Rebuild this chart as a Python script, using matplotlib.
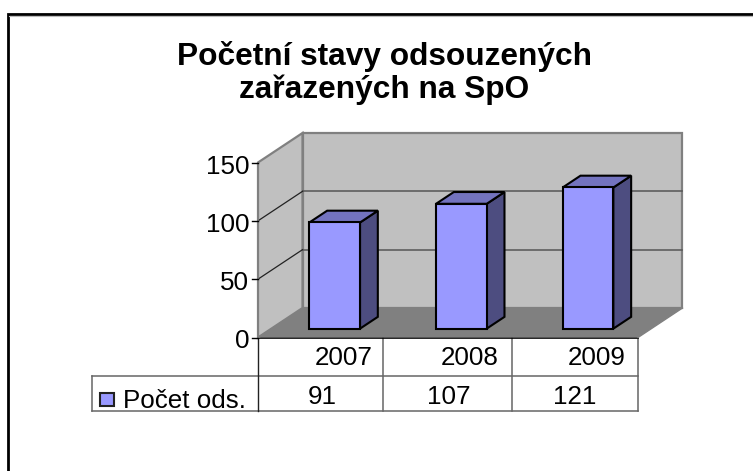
import matplotlib
matplotlib.use('Agg')
import matplotlib.pyplot as plt
from matplotlib.patches import Polygon

W, H = 753, 471

title_lines = ['Početní stavy odsouzených', 'zařazených na SpO']
years = ['2007', '2008', '2009']
counts = [91, 107, 121]
series_name = 'Počet ods.'
y_ticks = [0, 50, 100, 150]

plt.rcParams['font.family'] = ['Liberation Sans', 'DejaVu Sans']

fig = plt.figure(figsize=(W / 100, H / 100), dpi=100)

# page in pixels, for the frame and the text
page = fig.add_axes([0, 0, 1, 1])
page.set_xlim(0, W)
page.set_ylim(H, 0)
page.axis('off')
page.plot([8, 8, W], [H, 14, 14], color='black', lw=2.0, solid_joinstyle='miter')
page.plot([9.5, W], [15.5, 15.5], color='#bbbbbb', lw=0.8)
for line_text, base in zip(title_lines, [65, 98]):
    page.text(384.5, base, line_text, ha='center', va='baseline', fontsize=22.8,
              fontweight='bold')

# front plane of the 3d box: one unit per category, value upwards
left, right, y0, y150 = 258, 638, 337.5, 162.5
ax = fig.add_axes([left / W, 1 - y0 / H, (right - left) / W, (y0 - y150) / H])
ax.set_xlim(0, len(years))
ax.set_ylim(0, 150)
ax.axis('off')

dx = 44.5 / (right - left) * len(years)   # depth of the box in data units
dy = 29.5 / (y0 - y150) * 150


def shift(x, y, d):
    return (x + d * dx, y + d * dy)


def face(points, color, ec='none', lw=0.0, z=1):
    ax.add_patch(Polygon(points, closed=True, fc=color, ec=ec, lw=lw, zorder=z,
                         clip_on=False, joinstyle='miter'))


n = len(years)
top = y_ticks[-1]
wall = '#c0c0c0'
edge = '#808080'
# back wall, side wall, floor
face([shift(0, 0, 1), shift(n, 0, 1), shift(n, top, 1), shift(0, top, 1)], wall, edge, 1.6)
face([(0, 0), shift(0, 0, 1), shift(0, top, 1), (0, top)], wall, edge, 1.6)
face([(0, 0), (n, 0), shift(n, 0, 1), shift(0, 0, 1)], '#808080', z=2)
ax.plot(*zip((n, 0), shift(n, 0, 1)), color='#808080', lw=1.0, zorder=2, clip_on=False)

# gridlines
for v in y_ticks[1:-1]:
    ax.plot(*zip((0, v), shift(0, v, 1)), color='#222222', lw=0.9, zorder=3, clip_on=False)
    ax.plot(*zip(shift(0, v, 1), shift(n, v, 1)), color='#555555', lw=1.1, zorder=1.5,
            clip_on=False)

# bars
bar_w = 0.4
d0, d1 = 0.3, 0.7
for i, c in enumerate(counts):
    x0 = i + 0.5 - bar_w / 2
    x1 = x0 + bar_w
    fr = [shift(x0, 0, d0), shift(x1, 0, d0), shift(x1, c, d0), shift(x0, c, d0)]
    sd = [shift(x1, 0, d0), shift(x1, 0, d1), shift(x1, c, d1), shift(x1, c, d0)]
    tp = [shift(x0, c, d0), shift(x1, c, d0), shift(x1, c, d1), shift(x0, c, d1)]
    face(sd, '#4d4d80', 'black', 1.5, z=4)
    face(tp, '#7373bf', 'black', 1.5, z=4)
    face(fr, '#9999ff', 'black', 1.5, z=5)

# value axis
ax.plot([0, 0], [0, top], color='#808080', lw=1.2, zorder=3, clip_on=False)
for v in y_ticks:
    ax.plot([0, -6 / (right - left) * n], [v, v], color='black', lw=1.0, zorder=3, clip_on=False)
    ax.annotate(str(v), xy=(0, v), xytext=(-9, -4), textcoords='offset pixels', ha='right',
                va='center', fontsize=18.7)

# data table under the chart
row1, row2, row3 = 338, 376, 411
legend_left = 92
columns = [258, 383, 512, 638]
line = '#666666'
page.plot([left, right], [row1, row1], color='black', lw=1.2, zorder=6)
page.plot([legend_left, right], [row2, row2], color=line, lw=1.1)
page.plot([legend_left, right], [row3, row3], color=line, lw=1.1)
page.plot([legend_left, legend_left], [row2, row3], color=line, lw=1.1)
page.plot([columns[0], columns[0]], [row1, row3], color='#222222', lw=1.0)
for cx in columns[1:]:
    page.plot([cx, cx], [row1, row3], color=line, lw=1.1)

year_x = [343.5, 470, 596.5]
count_x = [322, 449, 575]
for yr, c, xa, xb in zip(years, counts, year_x, count_x):
    page.text(xa, 358, yr, ha='center', va='center', fontsize=18.7)
    page.text(xb, 397.5, str(c), ha='center', va='center', fontsize=18.7)

page.add_patch(plt.Rectangle((100, 393), 14, 12.5, fc='#9999ff', ec='#222222', lw=1.5))
page.text(123, 407.5, series_name, ha='left', va='baseline', fontsize=18.7)

fig.savefig('out.png', dpi=100, facecolor='white')
